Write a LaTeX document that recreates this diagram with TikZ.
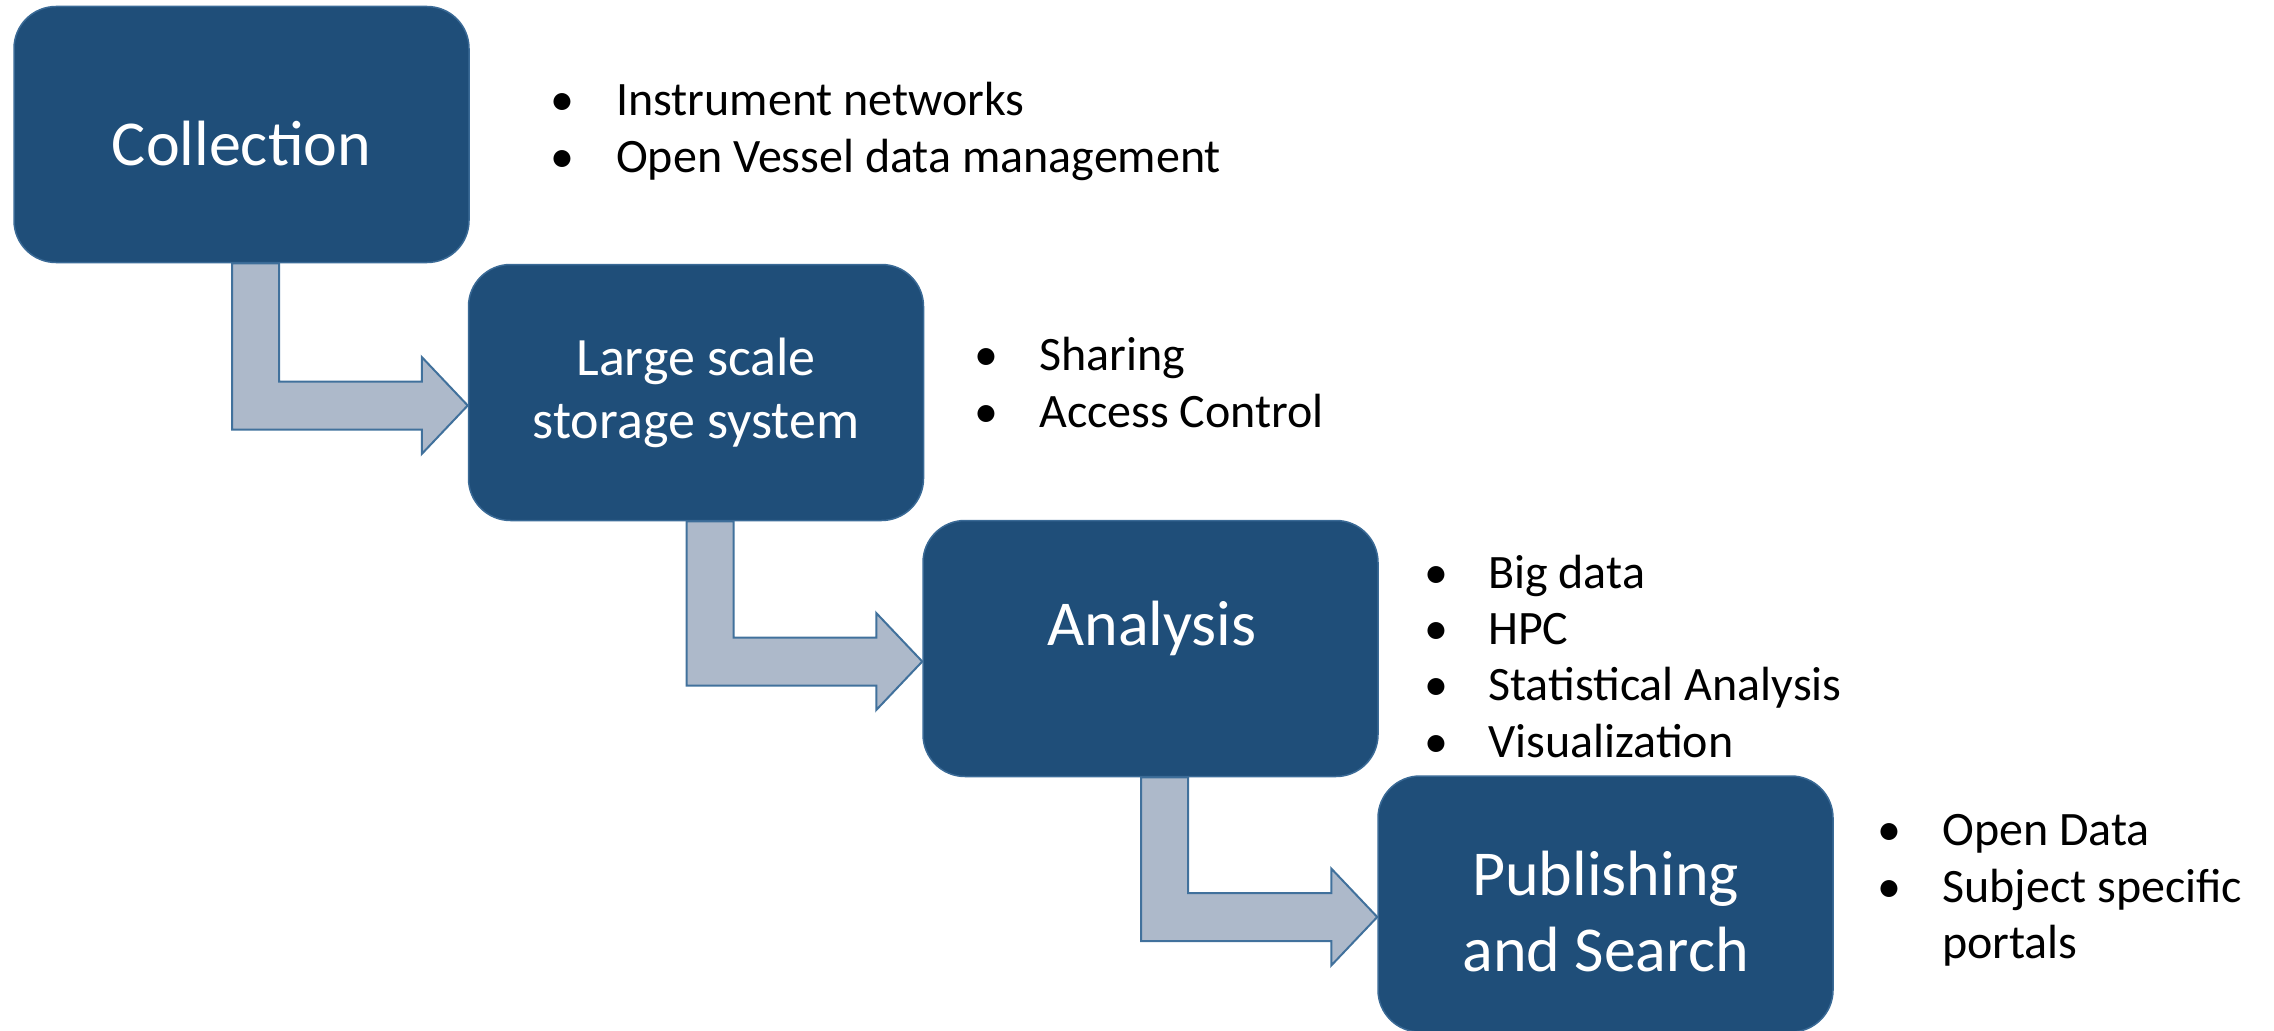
\documentclass[tikz,border=0pt]{standalone}
\usepackage{fontspec}
\setmainfont{Carlito}
\usetikzlibrary{backgrounds,calc}
\definecolor{boxblue}{HTML}{1F4E79}
\definecolor{boxedge}{HTML}{3A6A96}
\definecolor{arrowfill}{HTML}{ADB9CA}
\definecolor{arrowedge}{HTML}{41719C}
\newcommand\bentflow[2]{%
  \draw[bentarrow] let \p1=(#1.south), \p2=(#2.west) in
   ({\x1-9.5pt},\y1) -- ({\x1+37.5pt},\y1) -- ({\x1+37.5pt},{\y2-13pt+24pt})
   -- ({\x2-46pt},{\y2-13pt+24pt}) -- ({\x2-46pt},{\y2-13pt+48.5pt})
   -- ({\x2},{\y2-13pt}) -- ({\x2-46pt},{\y2-13pt-48.5pt})
   -- ({\x2-46pt},{\y2-13pt-24pt}) -- ({\x1-9.5pt},{\y2-13pt-24pt}) -- cycle;}
\begin{document}
\begin{tikzpicture}[x=1pt,y=-1pt,
  stage/.style={draw=boxedge, line width=1.5pt, fill=boxblue, rounded corners=42pt,
    minimum width=455pt, minimum height=256pt, inner sep=0pt},
  stagetext/.style={text=white, font=\fontsize{64}{74}\selectfont, anchor=base, inner sep=0pt},
  smallstagetext/.style={stagetext, font=\fontsize{54}{63}\selectfont},
  bul/.style={font=\fontsize{48}{56}\selectfont, anchor=base, inner sep=0pt},
  itemtext/.style={font=\fontsize{48}{56}\selectfont, anchor=base west, inner sep=0pt},
  bentarrow/.style={fill=arrowfill, draw=arrowedge, line width=2pt, line join=miter}]
\useasboundingbox (0,0) rectangle (2274,1030);

% stages
\node[stage] (b1) at (241.5,134.5) {};
\node[stage] (b2) at (696,392.5) {};
\node[stage] (b3) at (1150.5,648.5) {};
\node[stage] (b4) at (1605.5,904) {};

\node[stagetext] (t1) at (241.5,165) {Collection};
\node[smallstagetext] (t2a) at (696,375) {Large scale};
\node[smallstagetext] (t2b) at (696,438) {storage system};
\node[stagetext] (t3) at (1152,645) {Analysis};
\node[stagetext] (t4a) at (1605.5,895) {Publishing};
\node[stagetext] (t4b) at (1605.5,971) {and Search};

% connectors
\begin{scope}[on background layer]
  \bentflow{b1}{b2}
  \bentflow{b2}{b3}
  \bentflow{b3}{b4}
\end{scope}

% bullet lists
\node[bul] (d1a) at (562,116) {•};
\node[itemtext] (i1a) at (616,116) {Instrument networks};
\node[bul] (d1b) at (562,172) {•};
\node[itemtext] (i1b) at (616,172) {Open Vessel data management};

\node[bul] (d2a) at (986,370) {•};
\node[itemtext] (i2a) at (1039,370) {Sharing};
\node[bul] (d2b) at (986,427) {•};
\node[itemtext] (i2b) at (1039,427) {Access Control};

\node[bul] (d3a) at (1436,588) {•};
\node[itemtext] (i3a) at (1488,588) {Big data};
\node[bul] (d3b) at (1436,644) {•};
\node[itemtext] (i3b) at (1488,644) {HPC};
\node[bul] (d3c) at (1436,700) {•};
\node[itemtext] (i3c) at (1488,700) {Statistical Analysis};
\node[bul] (d3d) at (1436,757) {•};
\node[itemtext] (i3d) at (1488,757) {Visualization};

\node[bul] (d4a) at (1889,845) {•};
\node[itemtext] (i4a) at (1942,845) {Open Data};
\node[bul] (d4b) at (1889,902) {•};
\node[itemtext] (i4b) at (1942,902) {Subject specific};
\node[itemtext] (i4c) at (1942,958) {portals};
\end{tikzpicture}
\end{document}
